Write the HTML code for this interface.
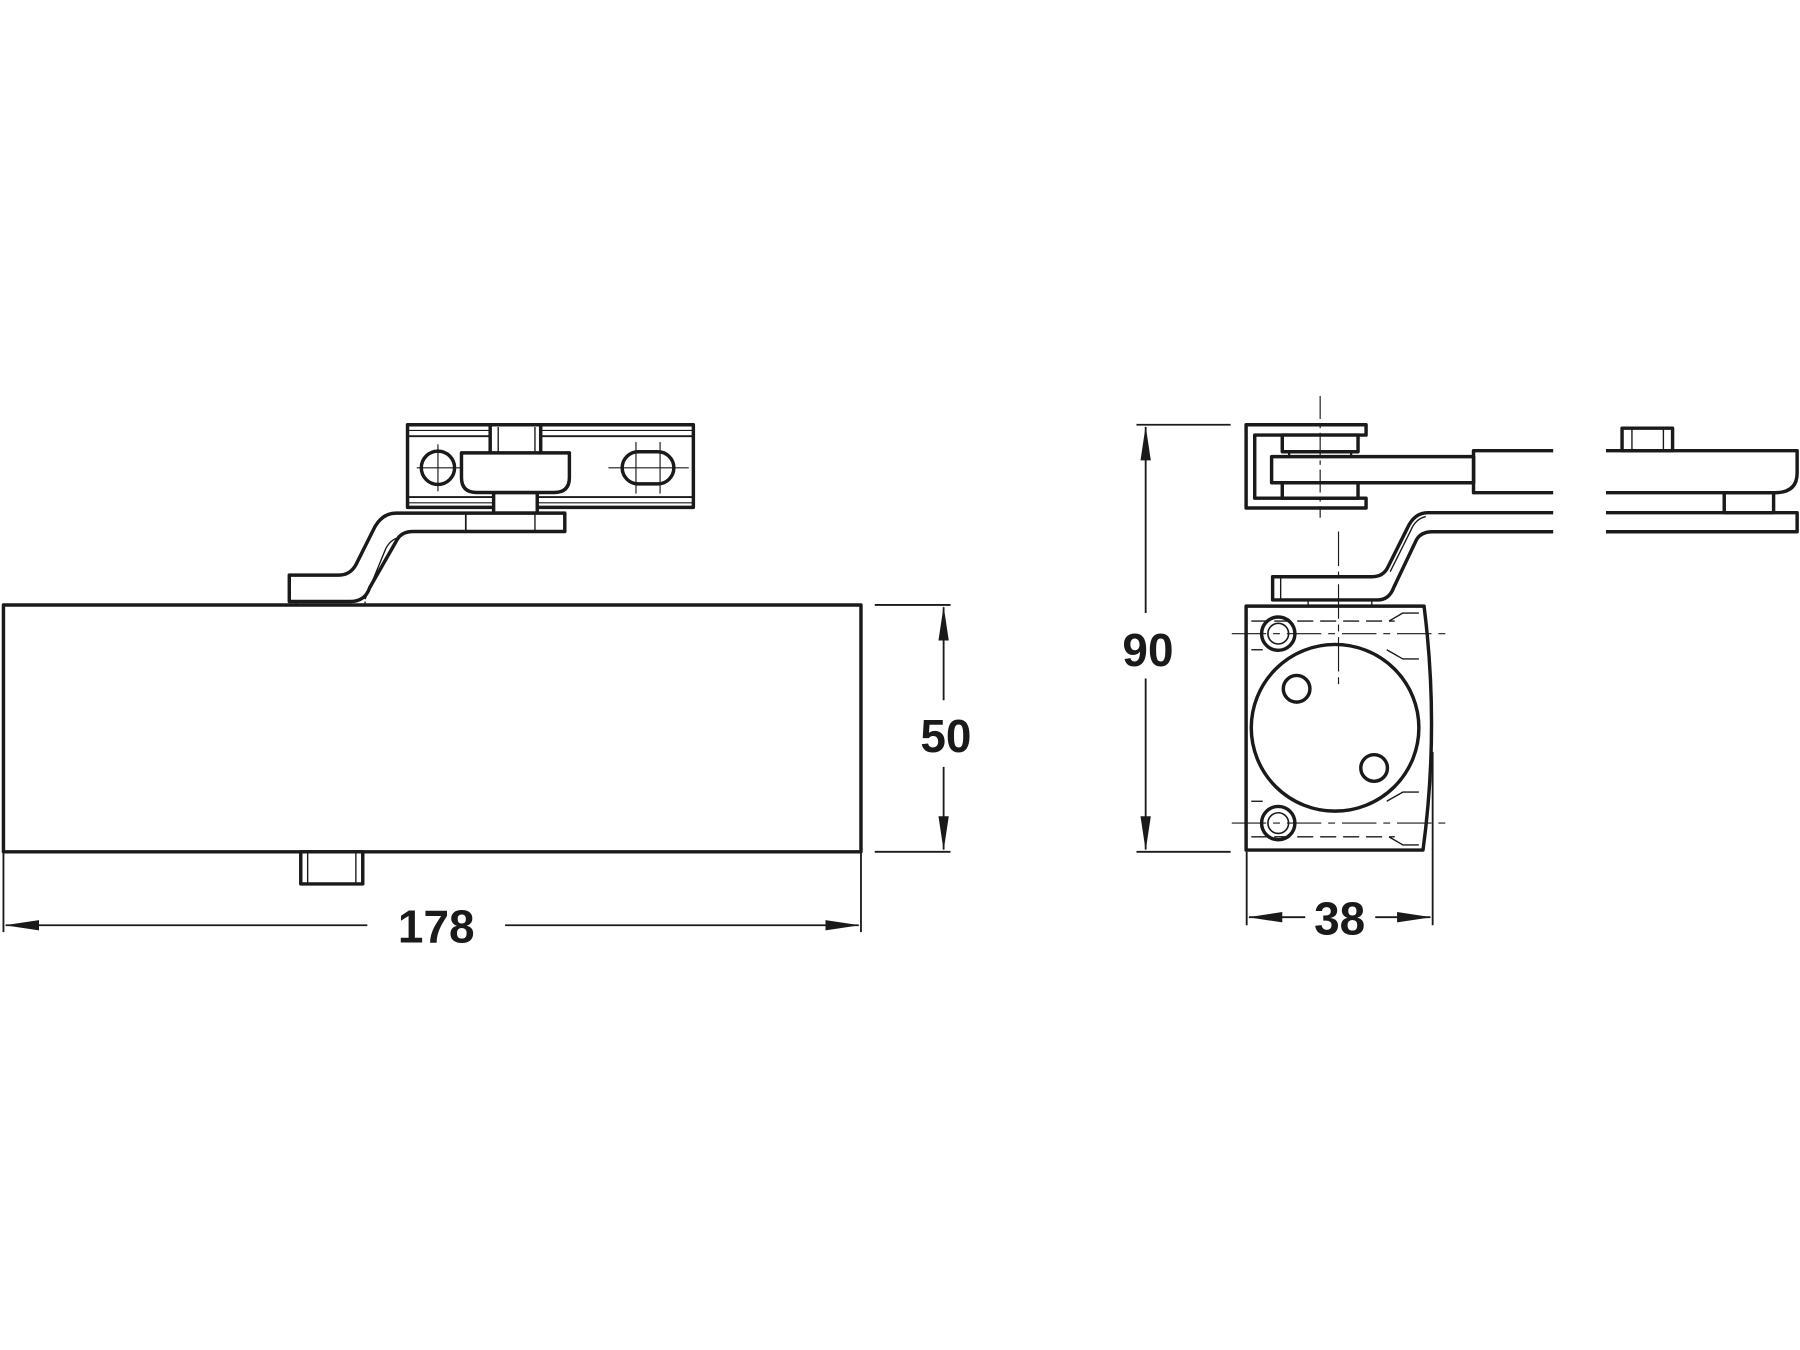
<!DOCTYPE html>
<html><head><meta charset="utf-8"><style>
html,body{margin:0;padding:0;background:#fff;}
svg{display:block;}
text{font-family:"Liberation Sans",Arial,sans-serif;font-weight:bold;font-size:40px;fill:#1a1a1a;}
</style></head><body>
<svg width="1800" height="1350" viewBox="0 0 1568 1176" xmlns="http://www.w3.org/2000/svg">
<defs>
<marker id="a" markerWidth="30" markerHeight="10" refX="29" refY="5" orient="auto" markerUnits="userSpaceOnUse">
<path d="M0,0.5 L30,5 L0,9.5 Z" fill="#1a1a1a"/></marker>
</defs>
<g fill="none" stroke="#1a1a1a" stroke-width="3" stroke-linejoin="round">
<!-- LEFT VIEW -->
<rect x="3" y="527" width="747" height="215"/>
<rect x="262" y="742" width="54" height="28"/>
<line x1="268" y1="742" x2="268" y2="770" stroke-width="1.2"/>
<line x1="310" y1="742" x2="310" y2="770" stroke-width="1.2"/>
<!-- bracket -->
<rect x="355" y="370" width="249" height="72"/>
<line x1="355" y1="380" x2="604" y2="380" stroke-width="1.6"/>
<line x1="355" y1="375" x2="604" y2="375" stroke-width="1"/>
<line x1="355" y1="433" x2="604" y2="433" stroke-width="1.6"/>
<line x1="355" y1="438" x2="604" y2="438" stroke-width="1"/>
<rect x="427" y="370" width="44" height="25" fill="#fff"/>
<line x1="434" y1="372" x2="434" y2="395" stroke-width="1.2"/>
<line x1="466" y1="372" x2="466" y2="395" stroke-width="1.2"/>
<rect x="430" y="429" width="38" height="18" fill="#fff"/>
<path d="M402,394.5 H496 V416 Q496,429 483,429 H415 Q402,429 402,416 Z" fill="#fff"/>
<circle cx="381.5" cy="407.5" r="14.5"/>
<line x1="363" y1="407.5" x2="402" y2="407.5" stroke-width="1"/>
<line x1="381.5" y1="387" x2="381.5" y2="428" stroke-width="1"/>
<rect x="542" y="393.5" width="45" height="28" rx="14"/>
<line x1="530" y1="407.5" x2="600" y2="407.5" stroke-width="1"/>
<line x1="554" y1="385" x2="554" y2="430" stroke-width="1"/>
<line x1="575" y1="385" x2="575" y2="430" stroke-width="1"/>
<!-- plate & arm -->
<rect x="405" y="447" width="87" height="16" fill="#fff"/>
<line x1="466" y1="447" x2="466" y2="463" stroke-width="1.2"/>
<path d="M405,447 H345 Q332,447 325,462 L310,492 Q305,501 295,501 H252 V524 H305 Q318,524 322,512 L346,470 Q350,463 360,463 H405" fill="#fff"/>
<path d="M318,522 L336,478 Q340,470 348,468" stroke-width="1.2"/>
<line x1="258" y1="524" x2="258" y2="527" stroke-width="1.2"/>
<line x1="318" y1="524" x2="318" y2="527" stroke-width="1.2"/>
<!-- dims left -->
<line x1="762" y1="527" x2="828" y2="527" stroke-width="1.6"/>
<line x1="762" y1="742" x2="828" y2="742" stroke-width="1.6"/>
<line x1="822" y1="610" x2="822" y2="529" stroke-width="1.6" marker-end="url(#a)"/>
<line x1="822" y1="668" x2="822" y2="740" stroke-width="1.6" marker-end="url(#a)"/>
<line x1="3" y1="742" x2="3" y2="812" stroke-width="1.6"/>
<line x1="750" y1="742" x2="750" y2="812" stroke-width="1.6"/>
<line x1="320" y1="806" x2="5" y2="806" stroke-width="1.6" marker-end="url(#a)"/>
<line x1="440" y1="806" x2="748" y2="806" stroke-width="1.6" marker-end="url(#a)"/>

<!-- RIGHT VIEW -->
<path d="M1190,370 H1085.5 V442.5 H1190 V434 H1093 V379 H1190 Z" fill="#fff"/>
<rect x="1117" y="379" width="66" height="14.5" fill="#fff"/>
<line x1="1123" y1="393.5" x2="1123" y2="397.8" stroke-width="2"/>
<line x1="1177" y1="393.5" x2="1177" y2="397.8" stroke-width="2"/>
<rect x="1117" y="420.5" width="66" height="13.5" fill="#fff"/>
<rect x="1107.7" y="397.8" width="176" height="22.7" fill="#fff"/>
<line x1="1150" y1="345" x2="1150" y2="451" stroke-width="1" stroke-dasharray="20,4,4,4"/>
<path d="M1353,392.6 H1283.6 V429.2 H1353" />
<path d="M1399,392.6 H1565.5 V412 Q1565.5,429.2 1546,429.2 H1399"/>
<rect x="1413" y="373" width="44" height="19.6"/>
<line x1="1421.6" y1="373" x2="1421.6" y2="392.6" stroke-width="1.2"/>
<line x1="1449" y1="373" x2="1449" y2="392.6" stroke-width="1.2"/>
<rect x="1502" y="429.2" width="43" height="17.4"/>
<path d="M1353,446.6 H1244 Q1232,446.6 1226,460 L1209,494 Q1205,502.4 1195,502.4 H1108.6 V522.6 H1200 Q1210,522.6 1214,512 L1234,470 Q1238,463.2 1248,463.2 H1353"/>
<path d="M1399,446.6 H1565.5 V463.2 H1399"/>
<path d="M1211,498 L1229,462 Q1233,452 1242,450" stroke-width="1.2"/>
<line x1="1115.6" y1="502.4" x2="1115.6" y2="522.6" stroke-width="1.2"/>
<line x1="1166" y1="463" x2="1166" y2="600" stroke-width="1" stroke-dasharray="30,5,6,5"/>
<line x1="1139.5" y1="522.6" x2="1139.5" y2="528" stroke-width="1.2"/>
<line x1="1195" y1="522.6" x2="1195" y2="528" stroke-width="1.2"/>
<!-- body -->
<path d="M1085.5,528 H1240.5 Q1254,634 1239.6,740.5 H1085.5 Z"/>
<line x1="1248" y1="655" x2="1248" y2="806" stroke-width="1.6"/>
<ellipse cx="1163" cy="634" rx="73" ry="72.6"/>
<circle cx="1129.5" cy="600" r="11.6"/>
<circle cx="1197" cy="669" r="11.6"/>
<circle cx="1113.5" cy="552" r="14.5" fill="#fff"/>
<circle cx="1113.5" cy="552" r="9" stroke-width="1.4"/>
<circle cx="1113.5" cy="717" r="14.5" fill="#fff"/>
<circle cx="1113.5" cy="717" r="9" stroke-width="1.4"/>
<g stroke-width="1.2" stroke-dasharray="14,6">
<line x1="1090" y1="541" x2="1215" y2="541"/>
<line x1="1090" y1="566" x2="1100" y2="566"/>
<line x1="1090" y1="698" x2="1100" y2="698"/>
<line x1="1090" y1="729" x2="1215" y2="729"/>
</g>
<path d="M1210,541 L1222,534 H1236 M1208,566 L1222,574 H1236 M1208,698 L1222,690 H1236 M1210,729 L1222,736 H1236" stroke-width="1.2"/>
<line x1="1073" y1="552" x2="1265" y2="552" stroke-width="1" stroke-dasharray="30,6,6,6"/>
<line x1="1073" y1="717" x2="1265" y2="717" stroke-width="1" stroke-dasharray="30,6,6,6"/>
<!-- dims right -->
<line x1="990" y1="370" x2="1072" y2="370" stroke-width="1.6"/>
<line x1="990" y1="742" x2="1072" y2="742" stroke-width="1.6"/>
<line x1="998" y1="534" x2="998" y2="372" stroke-width="1.6" marker-end="url(#a)"/>
<line x1="998" y1="591" x2="998" y2="740" stroke-width="1.6" marker-end="url(#a)"/>
<line x1="1086" y1="742" x2="1086" y2="806" stroke-width="1.6"/>
<line x1="1137" y1="799" x2="1088" y2="799" stroke-width="1.6" marker-end="url(#a)"/>
<line x1="1198" y1="799" x2="1246" y2="799" stroke-width="1.6" marker-end="url(#a)"/>
</g>
<text x="824" y="655" text-anchor="middle">50</text>
<text x="380" y="821" text-anchor="middle">178</text>
<text x="1000" y="580" text-anchor="middle">90</text>
<text x="1167" y="814" text-anchor="middle">38</text>
</svg>
</body></html>
